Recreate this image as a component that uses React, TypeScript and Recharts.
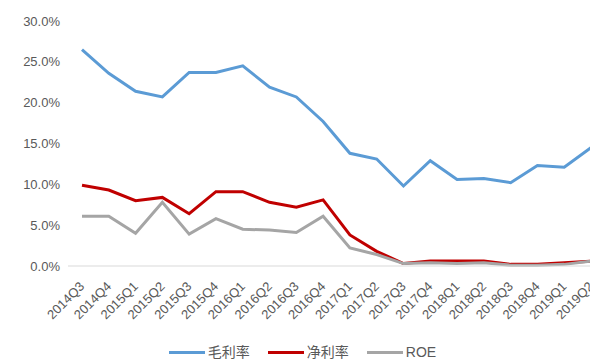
import { LineChart, Line, XAxis, YAxis, Legend } from 'recharts'

const quarters = [
  '2014Q3', '2014Q4', '2015Q1', '2015Q2', '2015Q3', '2015Q4', '2016Q1', '2016Q2', '2016Q3', '2016Q4',
  '2017Q1', '2017Q2', '2017Q3', '2017Q4', '2018Q1', '2018Q2', '2018Q3', '2018Q4', '2019Q1', '2019Q2',
]
const grossMargin = [26.5, 23.6, 21.4, 20.7, 23.7, 23.7, 24.5, 21.9, 20.7, 17.7, 13.8, 13.1, 9.8, 12.9, 10.6, 10.7, 10.2, 12.3, 12.1, 14.5]
const netMargin = [9.9, 9.3, 8.0, 8.4, 6.4, 9.1, 9.1, 7.8, 7.2, 8.1, 3.8, 1.8, 0.3, 0.6, 0.6, 0.6, 0.2, 0.2, 0.4, 0.6]
const roe = [6.1, 6.1, 4.0, 7.8, 3.9, 5.8, 4.5, 4.4, 4.1, 6.1, 2.2, 1.4, 0.3, 0.4, 0.3, 0.4, 0.1, 0.1, 0.2, 0.6]
const yTicks = [0, 5, 10, 15, 20, 25, 30]

const series = [
  { key: 'gross', name: '毛利率', color: '#5B9BD5' },
  { key: 'net', name: '净利率', color: '#C00000' },
  { key: 'roe', name: 'ROE', color: '#A5A5A5' },
]

const data = quarters.map((q, i) => ({
  quarter: q,
  gross: grossMargin[i],
  net: netMargin[i],
  roe: roe[i],
}))

const font = '"Liberation Sans", Arial, "Noto Sans CJK SC", sans-serif'

const QuarterTick = (props: any) => {
  const { x, y, payload } = props
  return (
    <text
      x={0}
      y={0}
      transform={`translate(${x},${y + 10}) rotate(-45)`}
      textAnchor="end"
      dy="0.35em"
      fontSize={13}
      fill="#595959"
      fontFamily={font}
    >
      {payload.value}
    </text>
  )
}

const LegendContent = () => (
  <div style={{ display: 'flex', justifyContent: 'center', fontFamily: font, fontSize: 14, lineHeight: '14px', color: '#595959', paddingTop: 10, paddingLeft: 10 }}>
    {series.map((s) => (
      <div key={s.key} style={{ display: 'flex', alignItems: 'center', marginRight: 18 }}>
        <span style={{ display: 'inline-block', width: 36, height: 3, background: s.color, marginRight: 3 }} />
        <span>{s.name}</span>
      </div>
    ))}
  </div>
)

export default function App() {
  return (
    <div style={{ margin: '-8px 0 0 -8px', width: 598, height: 359, overflow: 'hidden', background: '#fff' }}>
      <LineChart width={616} height={359} data={data} margin={{ top: 21, right: 11, left: 8, bottom: 0 }}>
        <XAxis
          dataKey="quarter"
          interval={0}
          tickLine={false}
          axisLine={{ stroke: '#D9D9D9' }}
          tick={<QuarterTick />}
          padding={{ left: 14, right: 14 }}
          height={69}
        />
        <YAxis
          domain={[0, 30]}
          ticks={yTicks}
          tickFormatter={(v: number) => `${v.toFixed(1)}%`}
          axisLine={false}
          tickLine={false}
          width={60}
          tick={{ fontSize: 13, fill: '#595959', fontFamily: font }}
        />
        <Legend verticalAlign="bottom" height={24} content={<LegendContent />} />
        <Line type="linear" dataKey="gross" name="毛利率" stroke="#5B9BD5" strokeWidth={3} dot={false} isAnimationActive={false} />
        <Line type="linear" dataKey="net" name="净利率" stroke="#C00000" strokeWidth={3} dot={false} isAnimationActive={false} />
        <Line type="linear" dataKey="roe" name="ROE" stroke="#A5A5A5" strokeWidth={3} dot={false} isAnimationActive={false} />
      </LineChart>
    </div>
  )
}
